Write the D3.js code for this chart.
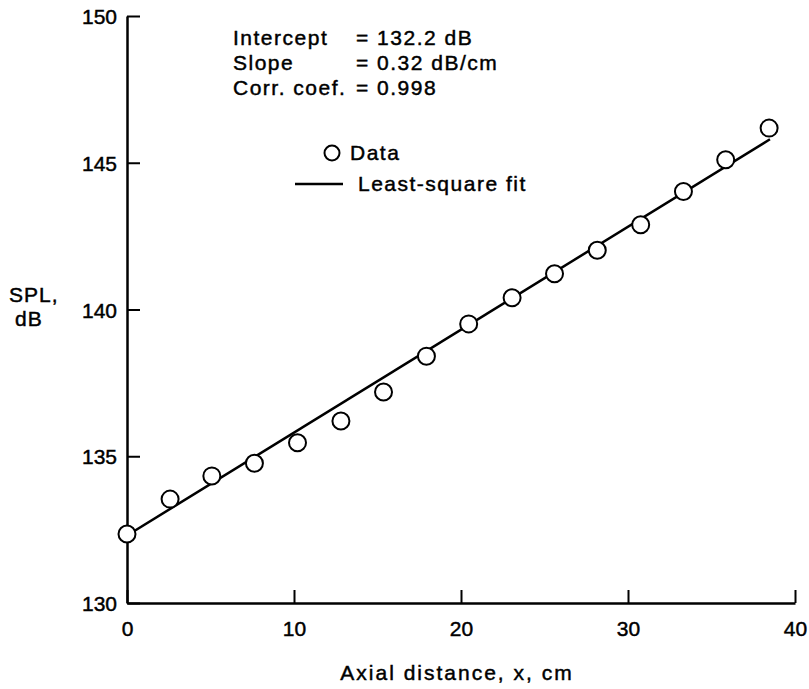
<!DOCTYPE html>
<html>
<head>
<meta charset="utf-8">
<script src="https://cdn.jsdelivr.net/npm/d3@7"></script>
<style>
  html, body { margin: 0; padding: 0; background: #fff; }
  svg { display: block; }
  text { font-family: "Liberation Sans", Arial, Helvetica, sans-serif; fill: #000; }
</style>
</head>
<body>
<svg id="chart" width="809" height="689"></svg>
<script>
// ---- data ----
const dataX = [0, 2.58, 5.08, 7.63, 10.21, 12.81, 15.36, 17.93, 20.46, 23.06, 25.6, 28.16, 30.76, 33.32, 35.85, 38.45];
const dataSPL = [132.35, 133.54, 134.33, 134.76, 135.46, 136.20, 137.19, 138.41, 139.51, 140.40, 141.22, 142.02, 142.89, 144.02, 145.10, 146.18];
const fitX = [0, 38.5];
const fitSPL = [132.3, 145.8];
const xTicks = [0, 10, 20, 30, 40];
const yTicks = [130, 135, 140, 145, 150];
const statLabels = ["Intercept", "Slope", "Corr. coef."];
const statValues = ["= 132.2 dB", "= 0.32 dB/cm", "= 0.998"];
const legendLabels = ["Data", "Least-square fit"];
const xTitle = "Axial distance, x, cm";
const yTitle = ["SPL,", "dB"];

const svg = d3.select("#chart");
const x = d3.scaleLinear().domain([0, 40]).range([127, 795]);
const y = d3.scaleLinear().domain([130, 150]).range([603, 16]);

const FS = 21;
const SW = 0.45;

// axes
const gx = svg.append("g").attr("transform", `translate(0,${y(130)})`)
  .call(d3.axisBottom(x).tickValues(xTicks).tickFormat(d3.format("d"))
    .tickSizeInner(-13).tickSizeOuter(0).tickPadding(18));
const gy = svg.append("g").attr("transform", `translate(${x(0)},0)`)
  .call(d3.axisLeft(y).tickValues(yTicks).tickFormat(d3.format("d"))
    .tickSizeInner(-13).tickSizeOuter(0).tickPadding(10));
[gx, gy].forEach(g => {
  g.select(".domain").attr("stroke", "#000").attr("stroke-width", 2.5);
  g.selectAll(".tick line").attr("stroke", "#000").attr("stroke-width", 2);
  g.selectAll(".tick text").attr("font-size", FS).attr("font-family", "Liberation Sans, Arial, sans-serif")
    .attr("fill", "#000").attr("stroke", "#000").attr("stroke-width", SW);
});
gy.selectAll(".tick text").attr("dy", "0.36em");

// fit line
svg.append("path")
  .datum(fitX.map((d, i) => [d, fitSPL[i]]))
  .attr("d", d3.line().x(d => x(d[0])).y(d => y(d[1])))
  .attr("fill", "none").attr("stroke", "#000").attr("stroke-width", 2.5);

// data circles
svg.append("g").selectAll("circle")
  .data(dataX.map((d, i) => [d, dataSPL[i]]))
  .join("circle")
  .attr("cx", d => x(d[0])).attr("cy", d => y(d[1]))
  .attr("r", 8.5).attr("fill", "#fff").attr("stroke", "#000").attr("stroke-width", 2);

// stats text
const stats = svg.append("g").attr("font-size", FS).attr("letter-spacing", 1.5)
  .attr("stroke", "#000").attr("stroke-width", SW);
statLabels.forEach((s, i) => {
  stats.append("text").attr("x", 233).attr("y", 45 + i * 25).text(s);
  stats.append("text").attr("x", 356).attr("y", 45 + i * 25).text(statValues[i]);
});

// legend
const leg = svg.append("g").attr("font-size", FS).attr("letter-spacing", 1.5);
leg.append("circle").attr("cx", 332).attr("cy", 153).attr("r", 7.5)
  .attr("fill", "#fff").attr("stroke", "#000").attr("stroke-width", 2);
leg.append("text").attr("x", 350).attr("y", 160).attr("stroke", "#000").attr("stroke-width", SW).text(legendLabels[0]);
leg.append("line").attr("x1", 295).attr("x2", 343).attr("y1", 184).attr("y2", 184)
  .attr("stroke", "#000").attr("stroke-width", 2.5);
leg.append("text").attr("x", 358).attr("y", 191).attr("stroke", "#000").attr("stroke-width", SW).text(legendLabels[1]);

// axis titles
svg.append("text").attr("x", 457).attr("y", 680).attr("text-anchor", "middle")
  .attr("font-size", FS).attr("letter-spacing", 2).attr("stroke", "#000").attr("stroke-width", SW).text(xTitle);
yTitle.forEach((t, i) => {
  svg.append("text").attr("x", i === 0 ? 9 : 15).attr("y", 302 + i * 24)
    .attr("font-size", FS).attr("letter-spacing", 1).attr("stroke", "#000").attr("stroke-width", SW).text(t);
});
</script>
</body>
</html>
